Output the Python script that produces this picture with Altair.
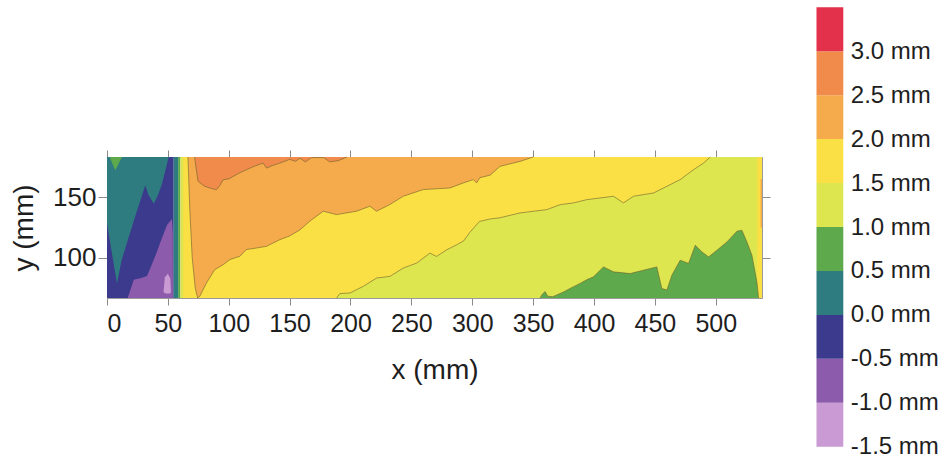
import altair as alt
import pandas as pd

# ---- colour bands: lower edge of each 0.5 mm interval and its colour ----
band_lower = [-1.5, -1.0, -0.5, 0.0, 0.5, 1.0, 1.5, 2.0, 2.5, 3.0]
band_colors = ["#c99ad3", "#8d5bab", "#3b3a8c", "#2f7c80", "#5ea94b",
               "#dde64e", "#fae045", "#f5aa4b", "#f08b4b", "#e3304b"]

X_DOMAIN = [0, 538]
Y_DOMAIN = [67, 183]
Y_TOP, Y_BOT = 183, 67

# ---- vertical strips of constant level (steep step near x = 55..62 mm, right edge) ----
strip_x0 = [0, 54.8, 58.4, 60.3, 534.0, 536.8]
strip_x1 = [54.8, 58.4, 60.3, 538.0, 538.0, 538.0]
strip_y0 = [67, 67, 67, 67, 67, 125]
strip_y1 = [183, 183, 183, 183, 183, 165]
strip_band = [-0.5, 0.0, 0.5, 1.0, 1.5, 2.0]

# ---- left part: 0.0 mm contour (teal above it) ----
teal_x = [0, 8.2, 12, 17.8, 24.7, 31.5, 34, 38.4, 42, 45.2, 48, 50.7]
teal_y = [128, 78.9, 98, 117, 139, 159.7, 152, 144.6, 152, 161, 172, 183]

# small 0.5 mm patch in the top-left corner
gpatch_x = [2.2, 6.8, 12.3]
gpatch_y = [183, 172, 183]

# -0.5 mm contour (purple below it)
purple_x = [17, 22, 28, 32.9, 37, 41, 45, 49.3, 53.4, 54.0, 54.2]
purple_y = [67, 82, 83.5, 85, 95, 105, 116, 127, 132, 120, 67]

# -1.0 mm island
lpurple_x = [46.5, 47.5, 50, 52, 52.5]
lpurple_lo = [72, 71, 70.5, 71, 72]
lpurple_hi = [73, 84, 87, 83, 73]

# ---- right part: 1.5 mm contour (yellow above it) ----
c15_x = [62.5, 188.5, 191.3, 199.5, 210.5, 221.4, 232.4, 243.3, 254.3, 265.2,
         270.7, 278.9, 287.1, 293, 298, 306, 314.6, 322.8, 339.3, 361.2, 372.2,
         383.1, 394.1, 416, 424.2, 432.5, 448.9, 459.9, 470.8, 481.8, 490, 495.5]
c15_y = [67, 67, 70.6, 71.1, 76.6, 83.4, 84.8, 91.6, 95.7, 103.9,
         101.2, 106.6, 110.7, 114, 121, 130, 132, 133, 137, 139.7, 143.8,
         145.2, 147.9, 150.7, 145.2, 150.7, 153.4, 158.9, 164.4, 172.6, 178, 183]

# 2.0 mm contour (light orange above it)
c20_x = [66.5, 68, 70, 72.5, 74.5, 76.2, 81.7, 88.5, 95.4, 100.9, 109.1, 114.5,
         122.7, 131, 142, 150, 158.4, 166.6, 177.6, 188.5, 205, 215.9, 221.4,
         232.4, 243.3, 259.8, 281.7, 292.7, 300.9, 303.6, 306.3, 314.6, 322.8,
         339.3, 350]
c20_y = [183, 140, 100, 75, 67, 68.4, 79.4, 90.3, 94.4, 98.6, 101.3, 106.8,
         108.1, 109.5, 115, 118, 123, 130.2, 138.4, 135.6, 138.4, 142.5, 138.4,
         143.9, 150.7, 156.2, 157.5, 161.7, 164.4, 161.7, 166, 168, 175.3,
         179.4, 183]

# 2.5 mm contour (orange above it)
c25_x = [72, 73, 74.8, 80, 86, 89.9, 93, 95.4, 100, 103.6, 109, 114.5, 120,
         128.2, 131, 136, 142, 150, 155, 158.4, 163, 168, 178, 183, 190, 197]
c25_y = [183, 175, 163, 159, 157, 156.1, 160, 164.3, 165, 167, 170, 172.5, 175,
         178, 173.9, 176, 178, 181, 179.5, 182, 179, 182.5, 182.5, 179, 180, 183]

# 1.0 mm contour (green below it)
c10_x = [355.7, 357.5, 359.8, 362, 366, 369.4, 375, 380.4, 388.6, 394, 399.6,
         407.8, 416, 429.7, 440.7, 451.6, 455.7, 459.9, 464, 470.8, 477.7,
         483.2, 488.7, 494.1, 501, 509.2, 517.4, 521.5, 525.6, 529.7, 533.8, 535.2]
c10_y = [67, 70, 72.3, 68.5, 68, 69.5, 72, 74.9, 79, 82, 84.4,
         92.6, 88.5, 87.1, 89.9, 92.6, 74.9, 73.5, 85.8, 98.1, 95.4,
         110.4, 104.9, 100.8, 106.3, 113.1, 121.9, 122.7, 113.1, 102.2, 80.3, 67]

x_ticks = list(range(0, 501, 50))
y_ticks = [100, 150]

FONT = "Liberation Sans"
TEXT = "#1e1e1e"


def key(v):
    return f"{v:+.1f}"


color_scale = alt.Scale(domain=[key(v) for v in band_lower], range=band_colors)
xs = alt.Scale(domain=X_DOMAIN, nice=False, zero=False)
ys = alt.Scale(domain=Y_DOMAIN, nice=False, zero=False)


def region(x, lo, hi, band):
    n = len(x)
    lo = lo if isinstance(lo, list) else [lo] * n
    hi = hi if isinstance(hi, list) else [hi] * n
    df = pd.DataFrame({"x": x, "lo": lo, "hi": hi, "band": key(band)})
    return alt.Chart(df).mark_area(interpolate="linear").encode(
        x=alt.X("x:Q", scale=xs, axis=None),
        y=alt.Y("lo:Q", scale=ys, axis=None),
        y2="hi:Q",
        color=alt.Color("band:N", scale=color_scale, legend=None),
    )


def contour(x, y):
    df = pd.DataFrame({"x": x, "y": y, "i": range(len(x))})
    return alt.Chart(df).mark_line(color="#6e5f2e", strokeWidth=0.8, opacity=0.75).encode(
        x=alt.X("x:Q", scale=xs, axis=None),
        y=alt.Y("y:Q", scale=ys, axis=None),
        order="i:Q",
    )


strips = alt.Chart(pd.DataFrame({
    "x0": strip_x0, "x1": strip_x1, "y0": strip_y0, "y1": strip_y1,
    "band": [key(v) for v in strip_band],
})).mark_rect().encode(
    x=alt.X("x0:Q", scale=xs, axis=None),
    x2="x1:Q",
    y=alt.Y("y0:Q", scale=ys, axis=None),
    y2="y1:Q",
    color=alt.Color("band:N", scale=color_scale, legend=None),
)

field = [
    strips,
    region(teal_x, teal_y, Y_TOP, 0.0),
    region(gpatch_x, gpatch_y, Y_TOP, 0.5),
    region(purple_x, Y_BOT, purple_y, -1.0),
    region(lpurple_x, lpurple_lo, lpurple_hi, -1.5),
    region(c15_x, c15_y, Y_TOP, 1.5),
    region(c20_x, c20_y, Y_TOP, 2.0),
    region(c25_x, c25_y, Y_TOP, 2.5),
    region(c10_x, Y_BOT, c10_y, 0.5),
    contour(c15_x[1:], c15_y[1:]),
    contour(c20_x, c20_y),
    contour(c25_x, c25_y),
    contour(c10_x, c10_y),
]

axis_df = pd.DataFrame({"x": [0], "y": [100]})
common = dict(domainColor="#9a9a9a", domainWidth=1, tickColor="#8a8a8a", tickWidth=1,
              labelFont=FONT, labelColor=TEXT, titleFont=FONT, titleColor=TEXT,
              titleFontWeight="normal", grid=False)

axes_main = alt.Chart(axis_df).mark_point(opacity=0).encode(
    x=alt.X("x:Q", scale=xs, axis=alt.Axis(
        orient="bottom", values=x_ticks, title="x (mm)", tickSize=7, labelPadding=6,
        labelFontSize=25, titleFontSize=28, titlePadding=20, **common)),
    y=alt.Y("y:Q", scale=ys, axis=alt.Axis(
        orient="left", values=y_ticks, title="y (mm)", tickSize=9, labelPadding=2,
        labelFontSize=26, titleFontSize=28, titlePadding=14, **common)),
)

axes_mirror = alt.Chart(axis_df).mark_point(opacity=0).encode(
    x=alt.X("x:Q", scale=xs, axis=alt.Axis(
        orient="top", values=x_ticks, labels=False, title=None, tickSize=7, **common)),
    y=alt.Y("y:Q", scale=ys, axis=alt.Axis(
        orient="right", values=y_ticks, labels=False, title=None, tickSize=8, **common)),
)

plot = alt.layer(*field, axes_main, axes_mirror).resolve_axis(x="independent", y="independent")

# ---- colour bar ----
legend_df = pd.DataFrame({
    "lo": band_lower,
    "hi": [v + 0.5 for v in band_lower],
    "band": [key(v) for v in band_lower],
    "l": 0, "r": 1,
})
colorbar = alt.Chart(legend_df).mark_rect().encode(
    x=alt.X("l:Q", scale=alt.Scale(domain=[0, 1], range=[709.5, 736.3]), axis=None),
    x2="r:Q",
    y=alt.Y("lo:Q",
            scale=alt.Scale(domain=[-1.5, 3.5], range=[289.7, -149.7], nice=False, zero=False),
            axis=alt.Axis(orient="right", offset=81.3, values=band_lower[:], ticks=False,
                          domain=False, grid=False, title=None, labelPadding=7,
                          labelFont=FONT, labelFontSize=24, labelColor=TEXT,
                          labelExpr="(datum.value < 0 ? '-' : '') + format(abs(datum.value), '.1f') + ' mm'")),
    y2="hi:Q",
    color=alt.Color("band:N", scale=color_scale, legend=None),
)

chart = alt.layer(plot, colorbar).resolve_scale(
    x="independent", y="independent"
).properties(
    width=655, height=141,
    autosize=alt.AutoSizeParams(type="none"),
    padding={"left": 107, "top": 157, "right": 183, "bottom": 161},
).configure_view(stroke=None).configure(background="white")

chart.save("out.html", embed_options={"renderer": "svg", "actions": False})
